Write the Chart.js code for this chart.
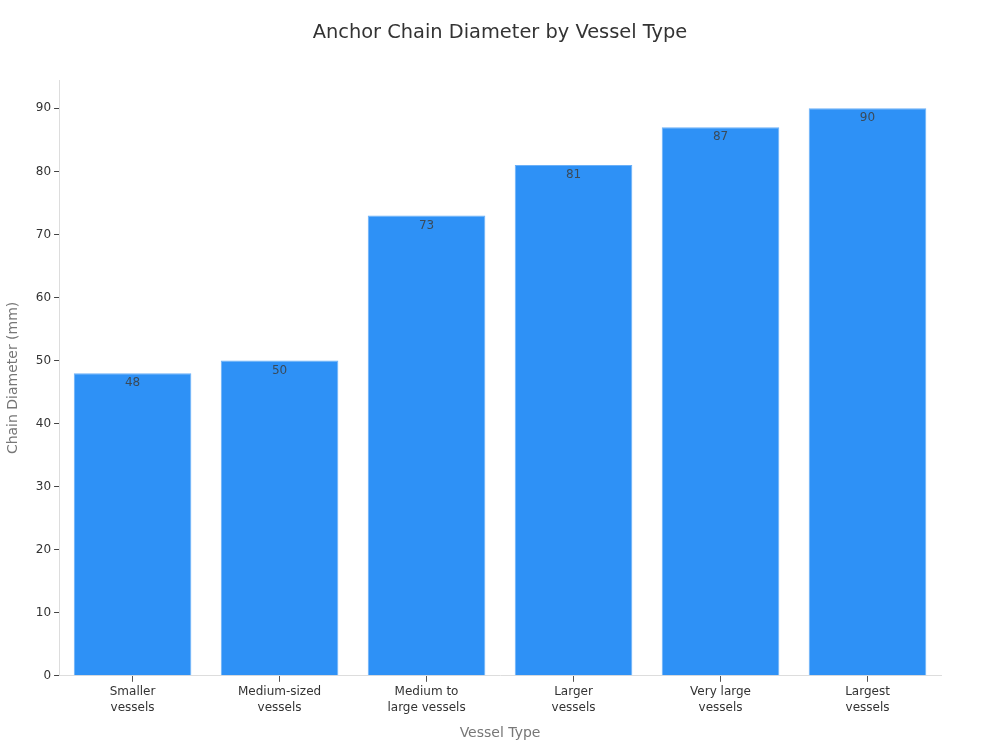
<!DOCTYPE html>
<html>
<head>
<meta charset="utf-8">
<script src="https://cdn.jsdelivr.net/npm/chart.js@4/dist/chart.umd.min.js"></script>
<style>
  html, body { margin: 0; padding: 0; background: #fff; }
  #wrap { width: 1000px; height: 750px; }
</style>
</head>
<body>
<div id="wrap"><canvas id="c"></canvas></div>
<script>
const chartTitle = "Anchor Chain Diameter by Vessel Type";
const vesselTypes = [
  ["Smaller", "vessels"],
  ["Medium-sized", "vessels"],
  ["Medium to", "large vessels"],
  ["Larger", "vessels"],
  ["Very large", "vessels"],
  ["Largest", "vessels"]
];
const chainDiameters = [48, 50, 73, 81, 87, 90];

Chart.defaults.font.family = "'DejaVu Sans', sans-serif";

// value label just inside the top of each bar, plus the page-centred title
const barLabels = {
  id: "barLabels",
  afterDatasetsDraw(chart) {
    const ctx = chart.ctx;
    const meta = chart.getDatasetMeta(0);
    ctx.save();
    ctx.font = "12px 'DejaVu Sans', sans-serif";
    ctx.fillStyle = "#3a4a5a";
    ctx.textAlign = "center";
    ctx.textBaseline = "top";
    meta.data.forEach((bar, i) => {
      ctx.fillText(chainDiameters[i], bar.x, bar.y + 4);
    });
    ctx.font = "19.4px 'DejaVu Sans', sans-serif";
    ctx.fillStyle = "#333333";
    ctx.textBaseline = "middle";
    ctx.fillText(chartTitle, chart.width / 2, 33);
    ctx.restore();
  }
};

new Chart(document.getElementById("c"), {
  type: "bar",
  data: {
    labels: vesselTypes,
    datasets: [{
      data: chainDiameters,
      backgroundColor: "#2e91f6",
      borderColor: "#6ab0f8",
      borderWidth: 1,
      barPercentage: 0.8,
      categoryPercentage: 1.0
    }]
  },
  options: {
    responsive: true,
    maintainAspectRatio: false,
    animation: false,
    layout: { padding: { top: 80, right: 59, left: 1, bottom: 4 } },
    plugins: {
      legend: { display: false },
      tooltip: { enabled: false },
      title: { display: false }
    },
    scales: {
      x: {
        grid: { offset: false, drawOnChartArea: false, drawTicks: true, tickLength: 6, tickColor: "#555555" },
        border: { color: "#dddddd" },
        ticks: { color: "#333333", font: { size: 12, lineHeight: 1.35 }, padding: 2, maxRotation: 0 },
        title: { display: true, text: "Vessel Type", color: "#777777", font: { size: 14 }, padding: { top: 7 } }
      },
      y: {
        min: 0,
        max: 94.5,
        afterBuildTicks(scale) {
          scale.ticks = scale.ticks.filter(t => t.value % 10 === 0);
        },
        grid: { drawOnChartArea: false, drawTicks: true, tickLength: 5, tickColor: "#444444" },
        border: { color: "#dddddd" },
        ticks: { stepSize: 10, color: "#333333", font: { size: 12 }, padding: 3 },
        title: { display: true, text: "Chain Diameter (mm)", color: "#777777", font: { size: 14 }, padding: { bottom: 11 } }
      }
    }
  },
  plugins: [barLabels]
});
</script>
</body>
</html>
